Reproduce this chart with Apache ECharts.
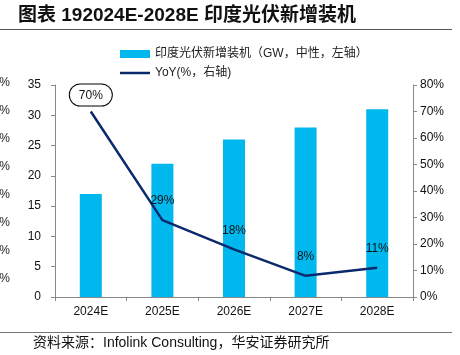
<!DOCTYPE html>
<html>
<head>
<meta charset="utf-8">
<script src="https://cdn.jsdelivr.net/npm/echarts@6/dist/echarts.min.js"></script>
<style>
html,body{margin:0;padding:0;background:#fff;}
#c{width:460px;height:355px;}
</style>
</head>
<body>
<div id="c"></div>
<script>
var categories = ['2024E', '2025E', '2026E', '2027E', '2028E'];
var installs = [17, 22, 26, 28, 31];
var yoy = [70, 29, 18, 8, 11];
var leftTicks = [0, 5, 10, 15, 20, 25, 30, 35];
var rightTicks = ['0%', '10%', '20%', '30%', '40%', '50%', '60%', '70%', '80%'];
var clippedLabels = ['%', '%', '%', '0%', '0%', '0%', '0%', '0%'];

var chart = echarts.init(document.getElementById('c'));
var fontLatin = 'Arial, "Liberation Sans", "Noto Sans CJK SC", sans-serif';
var fontMix = 'Arial, "Liberation Sans", "Noto Sans CJK SC", sans-serif';
var axisColor = '#888888';
var lineColor = '#0B2A6E';

var graphics = [
  {type: 'text', left: 18, top: 6, style: {text: '图表 192024E-2028E 印度光伏新增装机', font: 'bold 19px ' + fontMix, fill: '#111'}},
  {type: 'line', shape: {x1: 0, y1: 29.5, x2: 452, y2: 29.5}, style: {stroke: '#555', lineWidth: 1}},
  {type: 'line', shape: {x1: 0, y1: 332.5, x2: 452, y2: 332.5}, style: {stroke: '#777', lineWidth: 1}},
  {type: 'text', left: 33, top: 336, style: {text: '资料来源：Infolink Consulting，华安证券研究所', font: '14px ' + fontMix, fill: '#111'}}
];
clippedLabels.forEach(function (t, i) {
  graphics.push({type: 'text', x: 10, y: 83 + i * 28, style: {text: t, font: '12px ' + fontLatin, fill: '#222', align: 'right', verticalAlign: 'middle'}});
});

var lineData = yoy.map(function (v, i) {
  if (i === 0) {
    return {value: v, label: {distance: 5, borderColor: '#000', borderWidth: 1, borderRadius: 12, padding: [5, 9, 4, 9], backgroundColor: '#fff'}};
  }
  return v;
});

chart.setOption({
  animation: false,
  textStyle: {fontFamily: fontLatin},
  graphic: graphics,
  legend: {
    orient: 'vertical',
    left: 115,
    top: 43,
    itemWidth: 30,
    itemHeight: 8,
    itemGap: 7,
    textStyle: {fontFamily: fontMix, fontSize: 12, color: '#222'},
    data: [
      {name: '印度光伏新增装机（GW，中性，左轴）', icon: 'rect'},
      {name: 'YoY(%，右轴)', icon: 'path://M0,0L30,0L30,2.5L0,2.5Z', itemStyle: {color: lineColor, opacity: 1}}
    ]
  },
  grid: {left: 55, right: 47, top: 85, bottom: 58},
  xAxis: {
    type: 'category',
    data: categories,
    axisLine: {lineStyle: {color: axisColor, width: 1}},
    axisTick: {show: true, length: 4, lineStyle: {color: axisColor}},
    axisLabel: {color: '#111', fontSize: 12, margin: 9}
  },
  yAxis: [
    {
      type: 'value', min: 0, max: 35, interval: 5,
      axisLine: {show: true, lineStyle: {color: axisColor}},
      axisTick: {show: true, length: 4, lineStyle: {color: axisColor}},
      splitLine: {show: false},
      axisLabel: {color: '#111', fontSize: 12, margin: 14,
        formatter: function (v) { return leftTicks.indexOf(v) >= 0 ? String(v) : ''; }}
    },
    {
      type: 'value', min: 0, max: 80, interval: 10, position: 'right',
      axisLine: {show: true, lineStyle: {color: axisColor}},
      axisTick: {show: true, length: 4, lineStyle: {color: axisColor}},
      splitLine: {show: false},
      axisLabel: {color: '#111', fontSize: 12, margin: 7,
        formatter: function (v) { return rightTicks[Math.round(v / 10)]; }}
    }
  ],
  series: [
    {
      name: '印度光伏新增装机（GW，中性，左轴）',
      type: 'bar',
      data: installs,
      barWidth: 22,
      itemStyle: {color: '#00B8EE'},
      yAxisIndex: 0
    },
    {
      name: 'YoY(%，右轴)',
      type: 'line',
      yAxisIndex: 1,
      data: lineData,
      symbol: 'circle',
      symbolSize: 2,
      showSymbol: true,
      lineStyle: {color: lineColor, width: 2.5},
      itemStyle: {color: 'rgba(0,0,0,0)', borderWidth: 0},
      z: 5,
      label: {
        show: true, position: 'top', distance: 12,
        color: '#111', fontSize: 12,
        formatter: function (p) { return p.value + '%'; }
      }
    }
  ]
});
</script>
</body>
</html>
